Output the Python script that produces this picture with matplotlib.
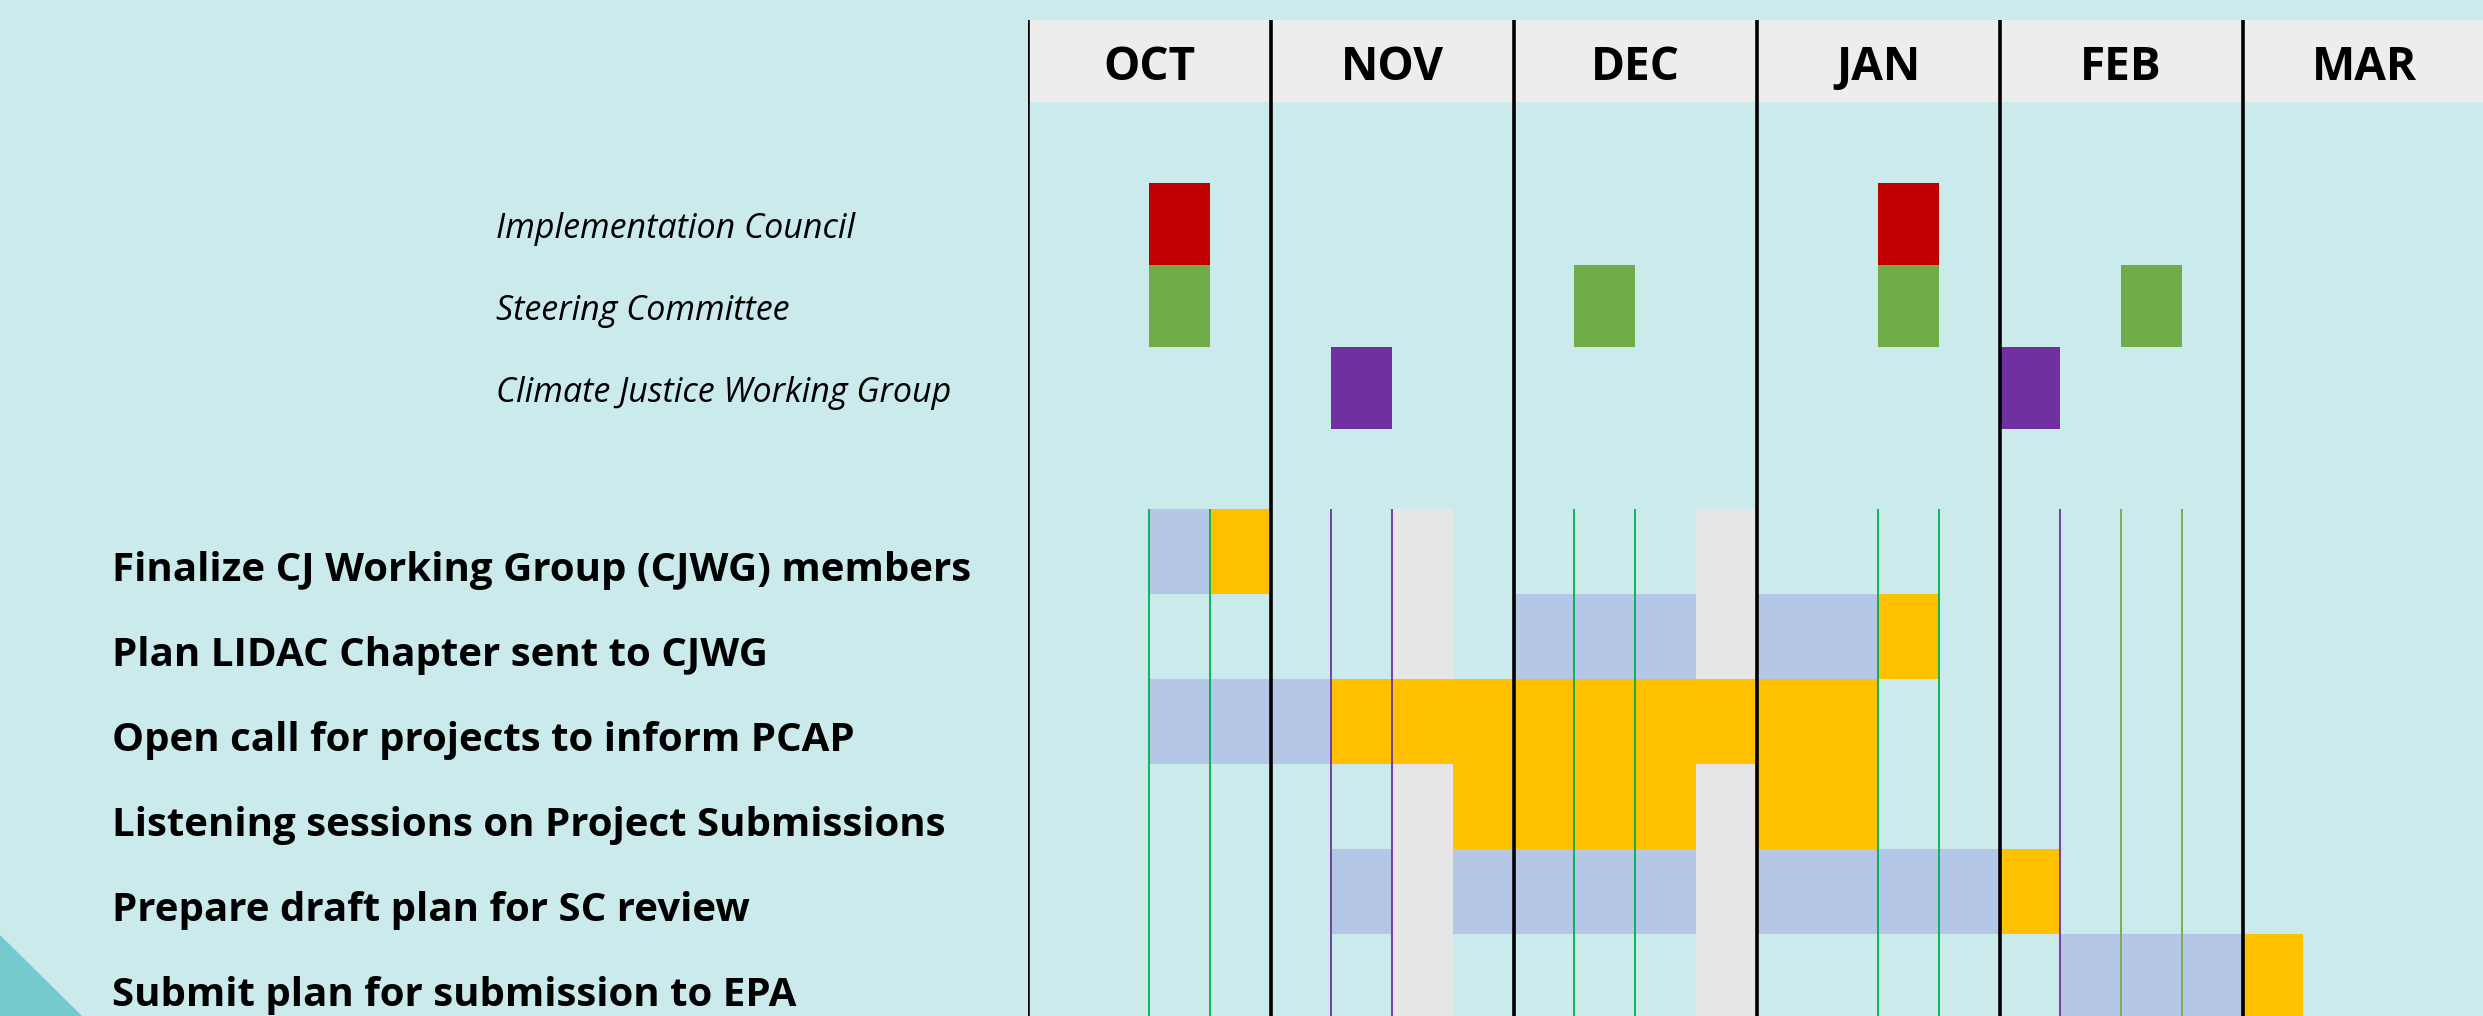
#!/usr/bin/env python
# Climate plan timeline: meeting schedule and task gantt, Oct - Mar, by week.

import matplotlib
matplotlib.use("Agg")
import matplotlib.pyplot as plt
from matplotlib.patches import Polygon
from matplotlib.transforms import blended_transform_factory

plt.rcParams['font.family'] = ['Open Sans', 'DejaVu Sans']

# data: columns are weeks, 4 per month
months = ["OCT", "NOV", "DEC", "JAN", "FEB", "MAR"]
weeks_per_month = 4

meeting_names = ["Implementation Council", "Steering Committee",
                 "Climate Justice Working Group"]
ic_weeks = [2, 14]
sc_weeks = [2, 9, 14, 18]
cjwg_weeks = [5, 16]
meeting_weeks = [ic_weeks, sc_weeks, cjwg_weeks]

holiday_weeks = [6, 11]

task_names = ["Finalize CJ Working Group (CJWG) members",
              "Plan LIDAC Chapter sent to CJWG",
              "Open call for projects to inform PCAP",
              "Listening sessions on Project Submissions",
              "Prepare draft plan for SC review",
              "Submit plan for submission to EPA"]
task_blue_weeks = [[2],
                   [8, 9, 10, 12, 13],
                   [2, 3, 4],
                   [],
                   [5, 7, 8, 9, 10, 12, 13, 14, 15],
                   [17, 18, 19]]
task_gold_weeks = [[3],
                   [14],
                   [5, 6, 7, 8, 9, 10, 11, 12, 13],
                   [7, 8, 9, 10, 12, 13],
                   [16],
                   [20]]

# styles
bg = "#cbeaeb"
meeting_colors = ["#c00000", "#70ad47", "#7030a0"]
sc_line_colors = ["#00b050", "#00b050", "#00b050", "#70ad47"]
cjwg_line_color = "#7030a0"
blue = "#b4c7e7"
gold = "#ffc000"
grey = "#e6e6e6"

W, H = 2483, 1016
nweeks = len(months) * weeks_per_month
x_left, week_px = 1027.5, 60.75


def place(y0, y1):
    # axes rectangle (figure fraction) spanning all weeks between pixel rows y0..y1
    return [x_left / W, 1 - y1 / H, nweeks * week_px / W, (y1 - y0) / H]


fig = plt.figure(figsize=(W / 100, H / 100), dpi=100)
fig.patch.set_facecolor(bg)

# decorative corner triangle
fig.patches.append(Polygon([[0, 0], [0, 81 / H], [82 / W, 0]], closed=True,
                           transform=fig.transFigure, facecolor="#76c9cc",
                           edgecolor="none", zorder=0))

# header with month names
ax_h = fig.add_axes(place(20, 102))
ax_h.set_xlim(0, nweeks)
ax_h.set_ylim(0, 1)
ax_h.set_facecolor("#ededed")
for s in ax_h.spines.values():
    s.set_visible(False)
ax_h.set_xticks([])
ax_h.set_yticks([])
for i, m in enumerate(months):
    ax_h.text(i * weeks_per_month + weeks_per_month / 2, 0.27, m,
              ha="center", va="baseline", fontsize=33, fontweight="bold")

# meetings
ax_m = fig.add_axes(place(183, 429))
ax_m.set_xlim(0, nweeks)
ax_m.set_ylim(len(meeting_names), 0)
ax_m.axis("off")
tm = blended_transform_factory(fig.transFigure, ax_m.transData)
for i, (name, wk) in enumerate(zip(meeting_names, meeting_weeks)):
    ax_m.barh([i] * len(wk), 1, left=wk, height=1, align="edge",
              color=meeting_colors[i], linewidth=0)
    ax_m.text(496 / W, i + 0.67, name, transform=tm, ha="left",
              va="baseline", fontsize=24.5, style="italic")

# tasks
ax_t = fig.add_axes(place(509, 1019))
ax_t.set_xlim(0, nweeks)
ax_t.set_ylim(len(task_names), 0)
ax_t.axis("off")
for k in holiday_weeks:
    ax_t.axvspan(k, k + 1, color=grey, linewidth=0, zorder=1)
for i in range(len(task_names)):
    b, g = task_blue_weeks[i], task_gold_weeks[i]
    ax_t.barh([i] * len(b), 1, left=b, height=1, align="edge",
              color=blue, linewidth=0, zorder=2)
    ax_t.barh([i] * len(g), 1, left=g, height=1, align="edge",
              color=gold, linewidth=0, zorder=2)
for k, c in zip(sc_weeks, sc_line_colors):
    for x in (k, k + 1):
        ax_t.axvline(x, color=c, lw=1.3, zorder=3)
for k in cjwg_weeks:
    for x in (k, k + 1):
        ax_t.axvline(x, color=cjwg_line_color, lw=1.3, zorder=3)
tt = blended_transform_factory(fig.transFigure, ax_t.transData)
for i, name in enumerate(task_names):
    ax_t.text(112 / W, i + 0.85, name, transform=tt, ha="left",
              va="baseline", fontsize=29, fontweight="bold")

# month separators
ax_o = fig.add_axes(place(20, 1016))
ax_o.set_xlim(0, nweeks)
ax_o.axis("off")
ax_o.set_zorder(10)
for i in range(len(months)):
    ax_o.axvline(i * weeks_per_month, color="black", lw=2.6)

fig.savefig("out.png", dpi=100, facecolor=fig.get_facecolor())
